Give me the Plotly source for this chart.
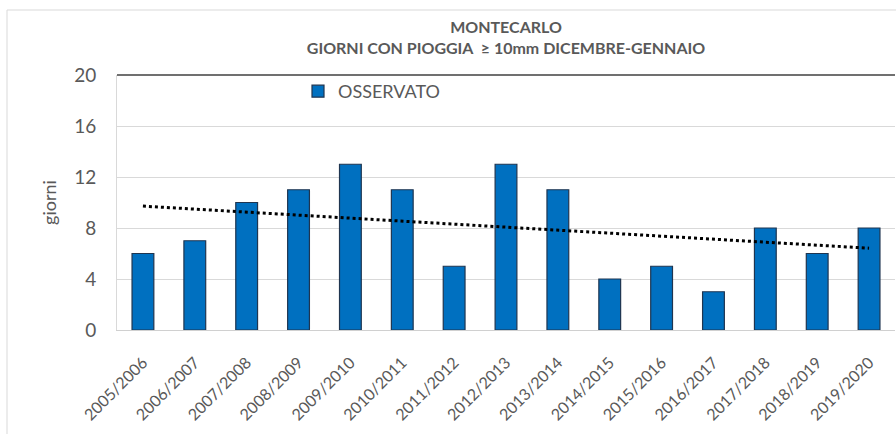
import numpy as np
import plotly.graph_objects as go

# Winter seasons (December-January)
stagioni = ["2005/2006", "2006/2007", "2007/2008", "2008/2009", "2009/2010",
            "2010/2011", "2011/2012", "2012/2013", "2013/2014", "2014/2015",
            "2015/2016", "2016/2017", "2017/2018", "2018/2019", "2019/2020"]
# Days with rain >= 10 mm
osservato = [6, 7, 10, 11, 13, 11, 5, 13, 11, 4, 5, 3, 8, 6, 8]
y_ticks = [0, 4, 8, 12, 16, 20]

# Linear trend fitted on the observed series
xi = np.arange(len(osservato))
slope, intercept = np.polyfit(xi, osservato, 1)
trend = slope * xi + intercept

FONT = "Lato, Open Sans, sans-serif"
GREY = "#595959"

fig = go.Figure()
fig.add_trace(go.Bar(
    x=stagioni, y=osservato, name="OSSERVATO",
    marker=dict(color="#0070C0", line=dict(color="#1F3550", width=1.2)),
))
fig.add_trace(go.Scatter(
    x=stagioni, y=trend, mode="lines", showlegend=False,
    line=dict(color="black", width=3, dash="dot"), hoverinfo="skip",
))

L, R, T, B = 117, 1, 75, 104
W, H = 896, 434
pw, ph = W - L - R, H - T - B

fig.update_layout(
    width=W, height=H,
    margin=dict(l=L, r=R, t=T, b=B, autoexpand=False),
    paper_bgcolor="white", plot_bgcolor="white",
    bargap=0.58,
    font=dict(family=FONT, color=GREY),
    title=dict(
        text="<b>MONTECARLO<br>GIORNI CON PIOGGIA  ≥ 10mm DICEMBRE-GENNAIO</b>",
        x=(L + pw / 2) / W, xanchor="center",
        y=1 - 33 / H, yanchor="top",
        font=dict(size=16, color=GREY, family=FONT),
    ),
    showlegend=True,
    legend=dict(
        x=(298 - L) / pw, xanchor="left", y=1 + 2 / ph, yanchor="top",
        bgcolor="rgba(0,0,0,0)", font=dict(size=18, color=GREY),
        itemwidth=30,
    ),
    xaxis=dict(
        tickangle=-45, tickfont=dict(size=16, color=GREY),
        showgrid=False, showline=True, linecolor="#d0d0d0", linewidth=1,
        ticks="", ticklabelstandoff=16, automargin=False,
        range=[-0.5, len(stagioni) - 0.5],
    ),
    yaxis=dict(
        range=[0, 20], tickvals=y_ticks, tickfont=dict(size=19, color=GREY),
        showgrid=True, gridcolor="#d9d9d9", gridwidth=1,
        showline=True, linecolor="#d9d9d9", zeroline=False,
        ticks="", ticklabelstandoff=16, automargin=False,
        title=dict(text="giorni", font=dict(size=18, color=GREY), standoff=12),
    ),
)

# Dark line along the top of the plot area
fig.add_shape(type="line", xref="paper", yref="paper", x0=0, x1=1, y0=1, y1=1,
              line=dict(color="#404040", width=1.5))
# Outer chart frame
fig.add_shape(type="rect", xref="paper", yref="paper",
              x0=(7 - L) / pw, x1=1.2, y0=-0.6, y1=(H - B - 10) / ph,
              line=dict(color="#d9d9d9", width=1), layer="below")

fig.write_html("out.html")
